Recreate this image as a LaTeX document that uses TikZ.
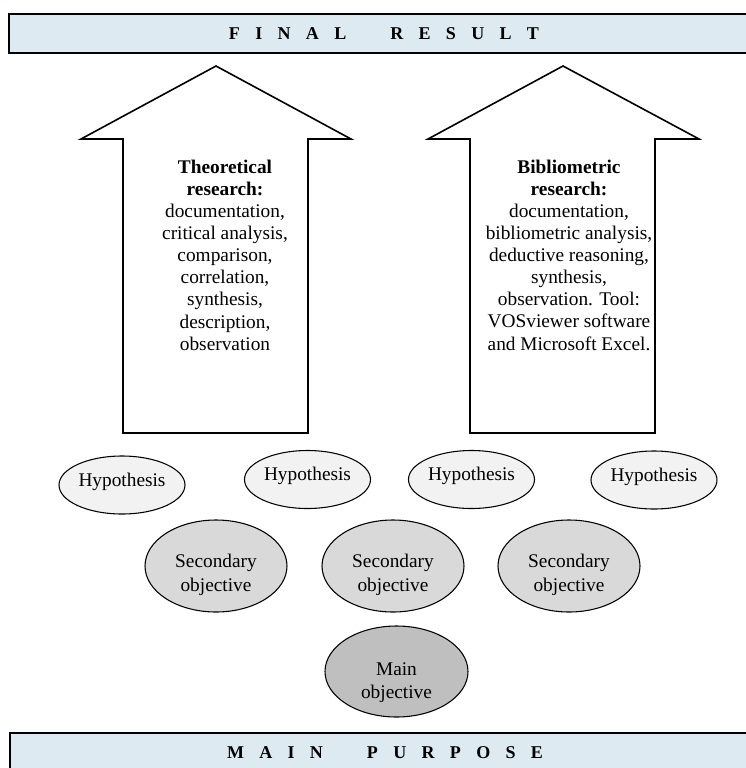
\documentclass[tikz,border=0pt]{standalone}
\usepackage{fontspec}
\setmainfont{Liberation Serif}
\usetikzlibrary{shapes.geometric}
\definecolor{bannerblue}{RGB}{222,234,241}
\definecolor{hypfill}{RGB}{242,242,242}
\definecolor{secfill}{RGB}{217,217,217}
\definecolor{mainfill}{RGB}{191,191,191}
\newcommand\lsp{\hspace{11.5pt}}
\newcommand\wsp{\hspace{33pt}}
\begin{document}
\begin{tikzpicture}[x=0.75pt,y=-0.75pt,
  bannerbox/.style={fill=bannerblue, minimum width=561.75pt, minimum height=29.25pt, inner sep=0pt,
    font=\bfseries\fontsize{13.5}{15}\selectfont},
  bannerline/.style={line width=1.2pt, draw=black},
  arrowshape/.style={line width=1.2pt, draw=black, fill=white, line join=miter},
  arrowtext/.style={align=center, inner sep=0pt, font=\fontsize{14.5}{16.6}\selectfont},
  hyp/.style={ellipse, draw=black, line width=0.8pt, fill=hypfill, minimum width=94.5pt, minimum height=43.5pt,
    inner sep=0pt, text depth=8pt, font=\fontsize{14.5}{16.5}\selectfont},
  sec/.style={ellipse, draw=black, line width=0.8pt, fill=secfill, minimum width=106.5pt, minimum height=69pt,
    inner sep=0pt, align=center, font=\fontsize{14.5}{17.5}\selectfont, text height=41pt},
  mainobj/.style={sec, fill=mainfill, minimum width=107.25pt, minimum height=68.25pt, text height=43.5pt}]
\useasboundingbox (0,0) rectangle (746,768);

% banners
\node[bannerbox] (final) at (384,33.5) {F\lsp I\lsp N\lsp A\lsp L\wsp R\lsp E\lsp S\lsp U\lsp L\lsp T};
\draw[bannerline] (final.north east) -- (final.north west) -- (final.south west) -- (final.south east);
\node[bannerbox, minimum height=30pt] (purpose) at (385,753) {M\lsp A\lsp I\lsp N\wsp P\lsp U\lsp R\lsp P\lsp O\lsp S\lsp E};
\draw[bannerline] (purpose.north east) -- (purpose.north west) -- (purpose.south west) -- (purpose.south east);

% arrows
\draw[arrowshape] (123,433) -- (123,139) -- (81,139) -- (216,66) -- (351,139) -- (308,139) -- (308,433) -- cycle;
\draw[arrowshape] (470,433) -- (470,139) -- (428,139) -- (563,66) -- (699,139) -- (655,139) -- (655,433) -- cycle;

\node[arrowtext] (theo) at (225,255) {\textbf{Theoretical}\\\textbf{research:}\\documentation,\\critical analysis,\\comparison,\\correlation,\\synthesis,\\description,\\observation};
\node[arrowtext] (biblio) at (569,255) {\textbf{Bibliometric}\\\textbf{research:}\\documentation,\\bibliometric analysis,\\deductive reasoning,\\synthesis,\\observation. Tool:\\VOSviewer software\\and Microsoft Excel.};

% hypotheses
\node[hyp] (h1) at (122,485) {Hypothesis};
\node[hyp] (h2) at (307.5,479.5) {Hypothesis};
\node[hyp] (h3) at (471.5,479.5) {Hypothesis};
\node[hyp] (h4) at (654,480) {Hypothesis};

% secondary objectives
\node[sec] (s1) at (216,566) {Secondary\\objective};
\node[sec] (s2) at (393,566) {Secondary\\objective};
\node[sec] (s3) at (569,566) {Secondary\\objective};

% main objective
\node[mainobj] (mo) at (396.5,671.5) {Main\\objective};
\end{tikzpicture}
\end{document}
